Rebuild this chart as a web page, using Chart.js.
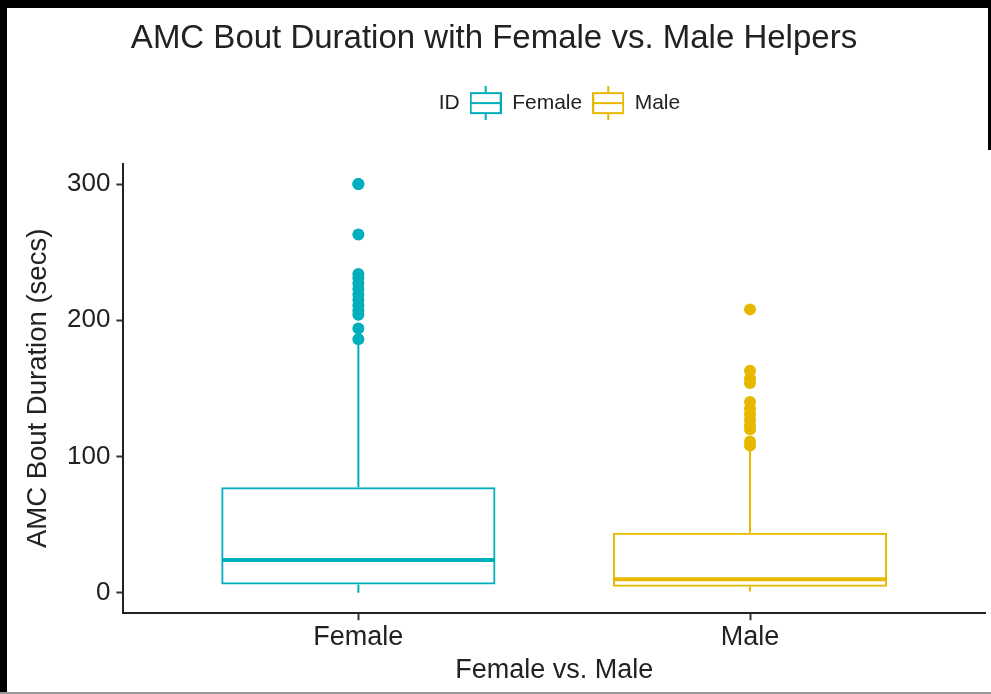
<!DOCTYPE html>
<html>
<head>
<meta charset="utf-8">
<title>AMC Bout Duration with Female vs. Male Helpers</title>
<script src="https://cdn.jsdelivr.net/npm/chart.js@4.4.1/dist/chart.umd.min.js"></script>
<style>
    body { margin: 0; background: #fff; }
    #wrap { position: relative; width: 991px; height: 694px; }
    #boutChart { position: absolute; left: 0; top: 0; }
    .edge { position: absolute; background: #000; }
</style>
</head>
<body>
<div id="wrap">
    <canvas id="boutChart" width="991" height="694"></canvas>
    <div class="edge" style="left:0;top:0;width:991px;height:8px;"></div>
    <div class="edge" style="left:0;top:0;width:7px;height:694px;"></div>
    <div class="edge" style="right:0;top:0;width:3px;height:150px;"></div>
    <div class="edge" style="left:0;bottom:0;width:991px;height:2px;background:#999;"></div>
</div>
<script>
const groups = ['Female', 'Male'];
const groupColors = ['#00AFBB', '#E7B800'];
const lowWhisker = [0, 1];
const q1 = [6, 4.5];
const medians = [24, 10];
const q3 = [77.5, 44];
const highWhisker = [183, 104];
const femaleOutliers = [300, 300, 263, 234, 231, 227, 223, 219, 215, 211, 207, 204, 194, 186];
const maleOutliers = [208, 163, 157, 154, 140, 135, 131, 127, 123, 120, 111, 108];
const yTicks = [0, 100, 200, 300];

const textColor = '#222';
const fontFamily = '"Liberation Sans", Arial, Helvetica, sans-serif';

function boxGlyph(color) {
    const c = document.createElement('canvas');
    c.width = 32;
    c.height = 34;
    const g = c.getContext('2d');
    g.strokeStyle = color;
    g.lineWidth = 2;
    g.strokeRect(1, 7, 30, 20);
    g.beginPath();
    g.moveTo(1, 17); g.lineTo(31, 17);
    g.moveTo(16, 0); g.lineTo(16, 7);
    g.moveTo(16, 27); g.lineTo(16, 34);
    g.stroke();
    return c;
}

const blank = document.createElement('canvas');
blank.width = 1;
blank.height = 1;

// whiskers and medians, placed with the chart's own scales and bar elements
const boxParts = {
    id: 'boxParts',
    beforeDatasetsDraw(chart) {
        const ctx = chart.ctx;
        const y = chart.scales.y;
        const bars = chart.getDatasetMeta(0).data;
        ctx.save();
        groups.forEach((name, i) => {
            const bar = bars[i];
            ctx.strokeStyle = groupColors[i];
            ctx.lineWidth = 2;
            ctx.beginPath();
            ctx.moveTo(bar.x, y.getPixelForValue(q3[i]));
            ctx.lineTo(bar.x, y.getPixelForValue(highWhisker[i]));
            ctx.moveTo(bar.x, y.getPixelForValue(q1[i]));
            ctx.lineTo(bar.x, y.getPixelForValue(lowWhisker[i]));
            ctx.stroke();
        });
        ctx.restore();
    },
    afterDatasetsDraw(chart) {
        const ctx = chart.ctx;
        const y = chart.scales.y;
        const bars = chart.getDatasetMeta(0).data;
        ctx.save();
        groups.forEach((name, i) => {
            const bar = bars[i];
            const py = y.getPixelForValue(medians[i]);
            ctx.strokeStyle = groupColors[i];
            ctx.lineWidth = 4;
            ctx.beginPath();
            ctx.moveTo(bar.x - bar.width / 2 + 1, py);
            ctx.lineTo(bar.x + bar.width / 2 - 1, py);
            ctx.stroke();
        });
        ctx.restore();
    }
};

// extra room between legend and plot, and nudge the row left
const legendGap = {
    id: 'legendGap',
    afterInit(chart) {
        const fit = chart.legend.fit;
        chart.legend.fit = function() {
            fit.bind(chart.legend)();
            this.height += 40;
            this.lineWidths[0] += 32;
        };
    }
};

const ctx = document.getElementById('boutChart').getContext('2d');

const chart = new Chart(ctx, {
    type: 'bar',
    data: {
        datasets: [
            {
                label: 'box',
                data: groups.map((g, i) => ({ x: i + 1, y: [q1[i], q3[i]] })),
                backgroundColor: 'rgba(255,255,255,0)',
                borderColor: groupColors,
                borderWidth: 2,
                borderSkipped: false,
                barPercentage: 0.7,
                categoryPercentage: 1.0
            },
            {
                type: 'scatter',
                label: 'Female outliers',
                data: femaleOutliers.map(v => ({ x: 1, y: v })),
                backgroundColor: groupColors[0],
                borderWidth: 0,
                pointRadius: 6
            },
            {
                type: 'scatter',
                label: 'Male outliers',
                data: maleOutliers.map(v => ({ x: 2, y: v })),
                backgroundColor: groupColors[1],
                borderWidth: 0,
                pointRadius: 6
            }
        ]
    },
    options: {
        responsive: false,
        animation: false,
        layout: { padding: { left: 0, right: 3, top: 0, bottom: 7 } },
        plugins: {
            tooltip: { enabled: false },
            title: {
                display: true,
                text: 'AMC Bout Duration with Female vs. Male Helpers',
                color: textColor,
                font: { family: fontFamily, size: 33, weight: 'normal' },
                padding: { top: 19, bottom: 24 }
            },
            legend: {
                position: 'top',
                fullSize: false,
                labels: {
                    color: textColor,
                    font: { family: fontFamily, size: 21 },
                    usePointStyle: true,
                    pointStyleWidth: 32,
                    padding: 10,
                    generateLabels: () => [
                        { text: 'ID', pointStyle: blank, fontColor: textColor, lineWidth: 0, hidden: false },
                        { text: groups[0], pointStyle: boxGlyph(groupColors[0]), fontColor: textColor, lineWidth: 0, hidden: false },
                        { text: groups[1], pointStyle: boxGlyph(groupColors[1]), fontColor: textColor, lineWidth: 0, hidden: false }
                    ]
                },
                onClick: () => {}
            }
        },
        scales: {
            x: {
                type: 'linear',
                min: 0.4,
                max: 2.6,
                offset: false,
                afterBuildTicks: axis => { axis.ticks = groups.map((g, i) => ({ value: i + 1 })); },
                ticks: {
                    color: textColor,
                    font: { family: fontFamily, size: 27 },
                    padding: 1,
                    callback: v => groups[v - 1]
                },
                grid: { offset: false, drawOnChartArea: false, drawTicks: true, tickLength: 7, tickWidth: 2, tickColor: '#333' },
                border: { display: true, color: '#222', width: 2 },
                title: {
                    display: true,
                    text: 'Female vs. Male',
                    color: textColor,
                    font: { family: fontFamily, size: 27 },
                    padding: { top: 0, bottom: 0 }
                }
            },
            y: {
                type: 'linear',
                min: -15,
                max: 315,
                afterBuildTicks: axis => { axis.ticks = yTicks.map(v => ({ value: v })); },
                ticks: {
                    color: textColor,
                    font: { family: fontFamily, size: 26 },
                    padding: 6
                },
                grid: { drawOnChartArea: false, drawTicks: true, tickLength: 7, tickWidth: 2, tickColor: '#333' },
                border: { display: true, color: '#222', width: 2 },
                title: {
                    display: true,
                    text: 'AMC Bout Duration (secs)',
                    color: textColor,
                    font: { family: fontFamily, size: 27.5 },
                    padding: { top: 22, bottom: 6 }
                }
            }
        }
    },
    plugins: [boxParts, legendGap]
});
</script>
</body>
</html>
